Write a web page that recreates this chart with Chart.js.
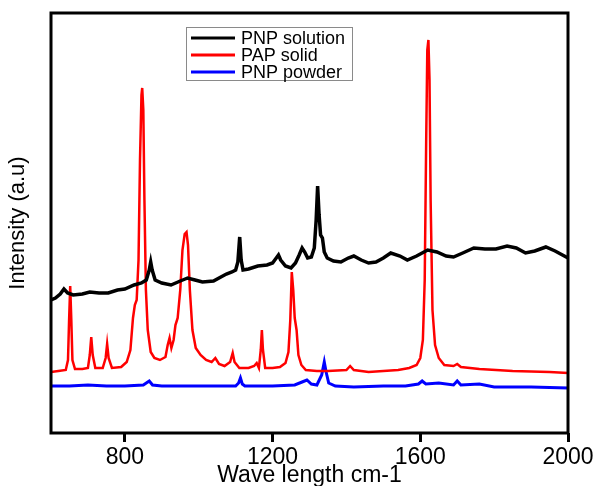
<!DOCTYPE html>
<html>
<head>
<meta charset="utf-8">
<title>Raman spectra</title>
<script src="https://cdn.jsdelivr.net/npm/chart.js@4.4.1/dist/chart.umd.min.js"></script>
<style>
  html, body { margin: 0; padding: 0; background: #ffffff; }
  canvas { display: block; }
</style>
</head>
<body>
<canvas id="spectra" width="595" height="486"></canvas>
<script>
// Raman shift (cm-1) and intensity (a.u.) for each sample
const seriesNames = ['PNP solution', 'PAP solid', 'PNP powder'];
const seriesColors = ['#000000', '#ff0000', '#0000ff'];

const pnpSolutionShift = [600, 612, 625, 635, 645, 660, 685, 705, 730, 755, 780, 800, 825, 845, 858, 866, 870, 874, 882, 900,
  925, 950, 970, 990, 1010, 1040, 1060, 1075, 1090, 1100, 1106, 1111, 1115, 1120, 1135, 1160, 1185, 1200, 1210, 1216,
  1222, 1235, 1250, 1262, 1272, 1280, 1287, 1295, 1305, 1313, 1318, 1322, 1326, 1330, 1335, 1340, 1348, 1365, 1385, 1405,
  1420, 1440, 1460, 1480, 1500, 1520, 1545, 1565, 1590, 1620, 1645, 1670, 1690, 1715, 1745, 1775, 1805, 1835, 1860, 1885,
  1910, 1940, 1965, 1985, 2000];
const pnpSolutionIntensity = [133, 135, 139, 144, 140, 138, 139, 141, 140, 140, 143, 144, 148, 150, 153, 163, 171, 163, 153, 150,
  148, 152, 155, 153, 151, 152, 156, 159, 161, 163, 171, 196, 173, 163, 164, 167, 168, 170, 175, 178,
  173, 167, 165, 170, 178, 185, 181, 175, 176, 185, 213, 247, 218, 198, 195, 181, 175, 172, 171, 175,
  177, 173, 170, 171, 175, 180, 177, 173, 177, 183, 181, 177, 176, 180, 185, 184, 184, 187, 185, 180,
  182, 186, 182, 178, 175];

const papSolidShift = [600, 620, 640, 646, 649, 652, 655, 658, 665, 685, 700, 705, 709, 713, 720, 740, 748, 752, 756, 765,
  790, 805, 815, 822, 827, 832, 837, 841, 845, 847, 850, 853, 857, 862, 870, 880, 895, 910, 916, 921,
  926, 932, 937, 943, 950, 956, 962, 967, 971, 976, 983, 992, 1005, 1020, 1035, 1045, 1055, 1070, 1085, 1092,
  1097, 1110, 1135, 1150, 1157, 1163, 1168, 1171, 1174, 1180, 1200, 1220, 1235, 1243, 1248, 1252, 1256, 1260, 1265, 1270,
  1278, 1290, 1320, 1350, 1400, 1410, 1420, 1460, 1500, 1540, 1570, 1590, 1600, 1607, 1612, 1616, 1619, 1622, 1625, 1628,
  1633, 1640, 1650, 1665, 1690, 1700, 1710, 1760, 1850, 1950, 2000];
const papSolidIntensity = [61, 62, 63, 73, 113, 147, 113, 73, 64, 64, 65, 78, 96, 78, 65, 65, 75, 89, 75, 65,
  66, 71, 83, 115, 128, 133, 173, 273, 338, 345, 323, 233, 143, 103, 81, 75, 73, 76, 88, 95,
  85, 93, 108, 115, 143, 183, 199, 201, 188, 143, 103, 85, 78, 73, 71, 75, 69, 67, 71, 80,
  71, 65, 65, 67, 70, 65, 83, 103, 83, 65, 65, 66, 70, 81, 113, 161, 143, 115, 103, 78,
  68, 63, 62, 62, 63, 67, 63, 61, 62, 63, 65, 68, 75, 93, 153, 293, 383, 393, 353, 233,
  123, 88, 75, 68, 67, 69, 66, 64, 62, 61, 60];

const pnpPowderShift = [600, 650, 700, 750, 800, 850, 866, 875, 900, 950, 1000, 1050, 1100, 1108, 1113, 1118, 1125, 1200, 1260, 1280,
  1293, 1305, 1320, 1333, 1340, 1345, 1352, 1370, 1420, 1500, 1560, 1595, 1605, 1615, 1650, 1690, 1700, 1710, 1760, 1800,
  1900, 2000];
const pnpPowderIntensity = [47, 47, 48, 47, 47, 48, 52, 48, 47, 47, 47, 47, 47, 50, 55, 49, 47, 47, 48, 51,
  53, 49, 48, 58, 71, 61, 50, 47, 46, 47, 47, 49, 52, 49, 50, 48, 52, 48, 49, 46,
  46, 45];

const xTickValues = [800, 1200, 1600, 2000];

const shifts = [pnpSolutionShift, papSolidShift, pnpPowderShift];
const intensities = [pnpSolutionIntensity, papSolidIntensity, pnpPowderIntensity];
const widths = [3.5, 2.5, 3];

const datasets = seriesNames.map((name, i) => ({
  label: name,
  data: shifts[i].map((x, j) => ({ x: x, y: intensities[i][j] })),
  borderColor: seriesColors[i],
  backgroundColor: seriesColors[i],
  borderWidth: widths[i],
  pointRadius: 0,
  tension: 0,
  fill: false
}));

const FONT = '"Liberation Sans", Arial, sans-serif';

// Thick frame around the plotting area
const framePlugin = {
  id: 'frame',
  afterDatasetsDraw(chart) {
    const { ctx, chartArea: a } = chart;
    ctx.save();
    ctx.strokeStyle = '#000';
    ctx.lineWidth = 3;
    ctx.strokeRect(a.left, a.top, a.right - a.left, a.bottom - a.top);
    ctx.restore();
  }
};

// Boxed legend placed inside the plotting area
const insideLegendPlugin = {
  id: 'insideLegend',
  afterDraw(chart) {
    const { ctx } = chart;
    const x0 = 186, y0 = 27, w = 166, h = 53;
    ctx.save();
    ctx.fillStyle = '#ffffff';
    ctx.fillRect(x0, y0, w, h);
    ctx.strokeStyle = '#8a8a8a';
    ctx.lineWidth = 1;
    ctx.strokeRect(x0 + 0.5, y0 + 0.5, w, h);
    ctx.font = '18px ' + FONT;
    ctx.textBaseline = 'middle';
    chart.data.datasets.forEach((ds, i) => {
      const y = y0 + 11 + i * 17;
      ctx.strokeStyle = ds.borderColor;
      ctx.lineWidth = 3;
      ctx.beginPath();
      ctx.moveTo(x0 + 5, y);
      ctx.lineTo(x0 + 49, y);
      ctx.stroke();
      ctx.fillStyle = '#000';
      ctx.fillText(ds.label, x0 + 55, y + 1);
    });
    ctx.restore();
  }
};

new Chart(document.getElementById('spectra'), {
  type: 'line',
  data: { datasets: datasets },
  options: {
    responsive: false,
    animation: false,
    devicePixelRatio: 1,
    layout: { padding: { top: 13, right: 27, left: 0, bottom: 0 } },
    plugins: {
      legend: { display: false },
      tooltip: { enabled: false }
    },
    scales: {
      x: {
        type: 'linear',
        min: 600,
        max: 2000,
        afterBuildTicks(scale) {
          scale.ticks = xTickValues.map(v => ({ value: v }));
        },
        afterFit(scale) {
          scale.height = 53;
          scale.paddingLeft = 0;
          scale.paddingRight = 0;
        },
        border: { display: false },
        grid: {
          display: true,
          drawOnChartArea: false,
          drawTicks: true,
          tickLength: 9,
          tickWidth: 3,
          tickColor: '#000'
        },
        ticks: {
          color: '#000',
          font: { family: FONT, size: 23 },
          padding: 2,
          maxRotation: 0,
          autoSkip: false,
          callback: (value) => String(value)
        },
        title: {
          display: true,
          text: 'Wave length cm-1',
          color: '#000',
          font: { family: FONT, size: 23 },
          padding: { top: 0, bottom: -3 }
        }
      },
      y: {
        type: 'linear',
        min: 0,
        max: 420,
        afterFit(scale) { scale.width = 51; },
        border: { display: false },
        grid: { display: false },
        ticks: { display: false },
        title: {
          display: true,
          text: 'Intensity (a.u)',
          color: '#000',
          font: { family: FONT, size: 22 },
          padding: { top: 5, bottom: 0 }
        }
      }
    }
  },
  plugins: [framePlugin, insideLegendPlugin]
});
</script>
</body>
</html>
